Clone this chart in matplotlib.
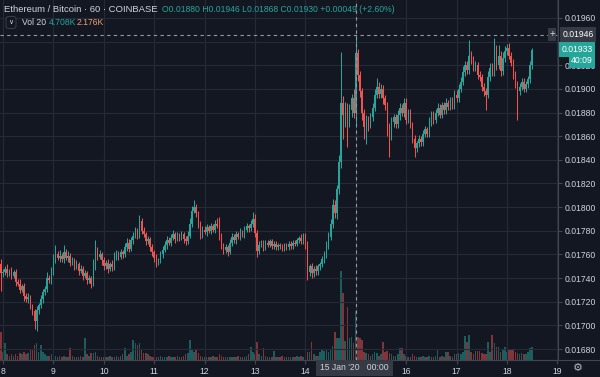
import matplotlib
matplotlib.use("Agg")
import matplotlib.pyplot as plt
import numpy as np
from matplotlib.lines import Line2D

plt.rcParams['font.family'] = ['Liberation Sans', 'DejaVu Sans']

# ---------------- data (prices in 1e-5 BTC, hourly candles) ----------------
first_hour = -1          # hours since 8 Jan 2020 00:00 (first candle 7 Jan 23:00)
first_open = 1752
closes = (
    [1744] +
    [1745,1748,1744,1746,1742,1745,1737,1735,1730,1733,1725,1722,1724,1716,1712,1704,1713,1717,1722,1728,1731,1740,1738,1745] +
    [1756,1760,1757,1759,1756,1762,1757,1759,1753,1755,1750,1752,1746,1748,1742,1744,1738,1740,1735,1750,1763,1758,1760,1755] +
    [1750,1753,1748,1752,1749,1758,1761,1758,1762,1760,1766,1770,1765,1772,1776,1779,1776,1788,1780,1777,1771,1773,1766,1762] +
    [1757,1753,1755,1760,1764,1768,1772,1770,1774,1777,1773,1776,1774,1777,1773,1771,1776,1786,1797,1800,1795,1785,1776,1781] +
    [1779,1783,1780,1784,1781,1786,1784,1775,1768,1764,1766,1762,1770,1775,1772,1777,1775,1779,1777,1781,1784,1782,1786,1790] +
    [1778,1763,1768,1770,1766,1770,1768,1771,1767,1769,1766,1768,1767,1765,1768,1766,1769,1767,1770,1769,1772,1774,1771,1775] +
    [1768,1745,1750,1744,1748,1746,1750,1752,1756,1760,1768,1775,1786,1802,1795,1815,1838,1888,1878,1884,1876,1882,1892,1880] +
    [1930,1912,1898,1880,1868,1874,1870,1876,1884,1895,1902,1896,1900,1892,1886,1868,1860,1872,1876,1870,1878,1884,1880,1888] +
    [1874,1880,1870,1858,1850,1854,1858,1855,1862,1866,1862,1872,1878,1874,1880,1884,1878,1886,1882,1888,1885,1890,1886,1895] +
    [1892,1900,1906,1914,1920,1916,1928,1925,1918,1920,1912,1910,1902,1898,1895,1910,1918,1914,1932,1920,1928,1915,1926,1932] +
    [1935,1928,1922,1912,1904,1898,1902,1906,1900,1904,1908,1920,1933]
)
upper_wick = (
    [4] +
    [3,2,4,2,3,2,3,2,4,2,3,2,3,2,2,2,3,2,4,3,2,5,3,4] +
    [4,8,3,5,2,6,3,4,2,3,2,3,2,3,2,3,2,3,2,6,9,3,4,2] +
    [3,2,3,2,3,4,3,2,3,2,4,4,3,3,3,4,3,5,3,3,2,3,2,3] +
    [2,3,2,3,3,3,4,3,3,4,2,3,2,3,2,3,4,5,4,6,3,2,3,3] +
    [3,3,2,3,2,3,5,8,3,2,3,2,3,3,2,3,2,3,2,3,3,2,3,6] +
    [4,3,3,2,2,2,2,2,2,2,2,2,2,2,2,2,2,2,2,2,2,2,3,3] +
    [3,3,2,3,2,3,2,2,3,3,3,4,4,5,4,4,6,43,6,5,4,5,4,8] +
    [16,4,3,3,3,4,3,4,4,5,7,4,4,3,3,3,3,4,3,3,4,4,3,4] +
    [4,3,3,2,3,2,3,2,3,3,2,4,3,3,3,4,3,3,3,4,3,3,3,4] +
    [4,4,4,5,4,4,13,4,3,4,3,3,3,3,3,5,4,4,11,5,9,4,5,4] +
    [3,4,3,3,3,3,3,3,3,3,3,4,2]
)
lower_wick = (
    [15] +
    [3,2,3,2,3,2,4,2,3,2,4,2,3,2,3,7,9,3,2,3,2,3,2,3] +
    [2,3,2,3,2,3,2,3,3,2,3,2,3,2,4,2,3,2,3,2,3,3,2,4] +
    [3,2,4,2,3,2,3,3,2,3,2,3,3,2,3,2,3,2,3,2,3,2,3,3] +
    [3,4,2,2,3,2,3,2,3,2,3,2,3,2,3,3,2,2,3,2,3,3,3,2] +
    [2,3,2,3,2,3,2,3,3,4,3,3,2,3,2,3,2,3,2,3,2,3,2,3] +
    [3,5,3,2,3,2,2,2,2,2,2,2,2,2,2,2,2,2,2,2,2,2,2,2] +
    [3,7,3,4,3,3,3,3,3,3,3,3,3,4,4,5,4,5,20,10,25,8,6,5] +
    [12,5,5,6,10,15,6,3,3,3,3,4,4,5,4,8,18,3,4,3,3,4,3,4] +
    [4,3,3,4,8,3,3,3,3,3,3,3,3,4,3,3,3,3,3,3,3,3,3,3] +
    [3,3,3,3,3,3,3,4,3,3,4,3,4,4,13,3,3,3,3,4,3,4,3,3] +
    [3,3,3,4,3,24,3,3,3,3,3,3,3]
)
volume_k = (
    [10] +
    [3,6,2,1.5,2,1.5,2,1.5,2.5,2,3,2,2.5,3.6,4,5.4,6,3,5.4,3,2,1.5,1.5,2] +
    [2,1.5,1.2,1.5,1,1.5,1.2,1,4.3,1.5,1,1.2,1,1.5,1.2,8,2,1.5,2.5,2.5,3,1.5,1.2,1] +
    [1,1.2,1,1.5,1,1.2,1.5,1,1.5,2,4.3,1.5,2,3,7.2,6,5.5,6,4,2.5,2.5,2,1.5,1] +
    [1,1.2,1,1.5,1,1.2,1,1.5,1,1.2,1,1.5,1.2,1,1.5,2,2.5,7.2,3.6,3,3.6,2.5,1.5,1.2] +
    [1,1.2,1,1.2,1.5,1,1.2,2,1.5,1.2,1,1.2,1,1,1.2,1,1.5,1,1,1.2,1.5,2,4.7,3] +
    [2,6.5,2,1.5,4.3,1.5,1,1.2,1,3.2,1,1.2,1,1.5,1,1.2,1,1,1.2,1,1.5,1.2,1.5,1.2] +
    [10.4,3,3,6.5,2,1.5,1.5,3,3.6,3.2,3.6,3,4,5,10,8,8,32,24,7,19,8,8.3,6] +
    [17.6,8.3,8,7.2,3,2.5,2,1.5,2,3,2.5,1.5,2,6.5,3,3.2,2.5,2.2,1.5,1.5,2,4.5,4.3,2] +
    [1.5,1,1.2,2,1.5,1,1.2,1,1.5,1.2,1,1.5,1.2,1,1.5,3.6,1.2,1.5,1,2.9,2.9,1.5,1.2,2] +
    [2,2.5,2,3,8.6,6.5,9,3,2,3.2,3.2,3.2,2.5,2,2,6.5,3,9,6,4.7,4.7,3,4,4.7] +
    [3,4,4,4,3,2.5,2,2.5,2,2,3,4.3,4.708]
)
day_labels = ['8', '9', '10', '11', '12', '13', '14', '', '16', '17', '18', '19']
price_ticks = [0.0168, 0.0170, 0.0172, 0.0174, 0.0176, 0.0178, 0.0180, 0.0182,
               0.0184, 0.0186, 0.0188, 0.0190, 0.0192, 0.0194, 0.0196]
cross_price = 0.01946
cross_hour = 168
last_price = 0.01933

assert len(closes) == len(upper_wick) == len(lower_wick) == len(volume_k)

# ---------------- derived ----------------
c = np.array(closes) * 1e-5
o = np.concatenate([[first_open], closes[:-1]]) * 1e-5
hi = np.maximum(o, c) + np.array(upper_wick) * 1e-5
lo = np.minimum(o, c) - np.array(lower_wick) * 1e-5
t = np.arange(len(c)) + first_hour
up = c >= o

BG = '#131722'
GRID = '#262a36'
UP = '#26a69a'
DN = '#ef5350'
TXT = '#d1d4dc'
SEP = '#434651'

W, H = 600, 377
fig = plt.figure(figsize=(6, 3.77), dpi=100, facecolor=BG)
ax = fig.add_axes([0, 17 / H, 558 / W, 360 / H])
axv = ax.twinx()
axv.set_zorder(ax.get_zorder() - 1)
ax.patch.set_visible(False)
axv.patch.set_facecolor(BG)

ax.set_xlim(-1.43, 264.3)
ax.set_ylim(0.016707, 0.019752)
axv.set_ylim(0, 129.6)

# volume
vcols = [(0.149, 0.651, 0.604, 0.5) if u else (0.937, 0.325, 0.314, 0.5) for u in up]
axv.bar(t, volume_k, width=0.75, color=vcols, linewidth=0)

# candles
cols = [UP if u else DN for u in up]
ax.vlines(t, lo, hi, colors=cols, linewidth=0.75, zorder=3)
body_h = np.maximum(np.abs(c - o), 0.6e-5)
ax.bar(t, body_h, bottom=np.minimum(o, c), width=0.72, color=cols, linewidth=0, zorder=4)

# grid / axes
ax.set_xticks(np.arange(0, 265, 24))
ax.set_xticklabels(day_labels)
ax.set_yticks(price_ticks)
ax.set_yticklabels([f'{v:.5f}' for v in price_ticks])
ax.yaxis.tick_right()
ax.grid(True, color=GRID, linewidth=0.8, zorder=0)
ax.tick_params(axis='y', colors=SEP, labelcolor=TXT, labelsize=6.2, length=3, pad=2)
ax.tick_params(axis='x', colors=SEP, labelcolor=TXT, labelsize=6.2, length=3, pad=2)
for s in ['top', 'left']:
    ax.spines[s].set_visible(False)
for s in axv.spines.values():
    s.set_visible(False)
ax.spines['right'].set_color(SEP)
ax.spines['bottom'].set_color(SEP)
axv.set_yticks([])

# crosshair
ax.axhline(cross_price, color='#9598a1', linewidth=0.8, linestyle=(0, (3, 3)), zorder=5)
ax.axvline(cross_hour, color='#9598a1', linewidth=0.8, linestyle=(0, (3, 3)), zorder=5)

def fx(px):
    return px / W

def fy(py):
    return 1 - py / H

# header
fig.text(fx(4), fy(9), 'Ethereum / Bitcoin · 60 · COINBASE', color=TXT, fontsize=6.8, va='center', ha='left')
fig.text(fx(162), fy(9), 'O0.01880 H0.01946 L0.01868 C0.01930 +0.00049 (+2.60%)', color=UP, fontsize=6.2, va='center', ha='left')
fig.text(fx(11), fy(22.5), '∨', color=TXT, fontsize=5, va='center', ha='center',
         bbox=dict(boxstyle='round,pad=0.35', fc=BG, ec=SEP, lw=0.6))
fig.text(fx(22), fy(22.5), 'Vol 20', color=TXT, fontsize=6.2, va='center', ha='left')
fig.text(fx(49), fy(22.5), '4.708K', color=UP, fontsize=6.2, va='center', ha='left')
fig.text(fx(77), fy(22.5), '2.176K', color='#f0a070', fontsize=6.2, va='center', ha='left')

# right price labels
fig.text(fx(578), fy(34.5), f'{cross_price:.5f}', color='white', fontsize=6.2, va='center', ha='center',
         bbox=dict(boxstyle='square,pad=0.3', fc='#363a45', ec='none'))
fig.text(fx(552), fy(34.5), '+', color=TXT, fontsize=7, va='center', ha='center',
         bbox=dict(boxstyle='square,pad=0.15', fc='#363a45', ec='none'))
fig.text(fx(577), fy(49.5), f'{last_price:.5f}', color='white', fontsize=6.2, va='center', ha='center',
         bbox=dict(boxstyle='square,pad=0.3', fc=UP, ec='none'))
fig.text(fx(582), fy(60.5), '40:09', color='white', fontsize=6.2, va='center', ha='center',
         bbox=dict(boxstyle='square,pad=0.3', fc=UP, ec='none'))

# bottom crosshair label
fig.text(fx(354.5), fy(368), "15 Jan '20   00:00", color=TXT, fontsize=6.2, va='center', ha='center',
         bbox=dict(boxstyle='square,pad=0.45', fc='#363a45', ec='none'))
fig.text(fx(578), fy(368), '⚙', color='#b2b5be', fontsize=8, va='center', ha='center', family='DejaVu Sans')

fig.add_artist(Line2D([0, 1], [fy(360), fy(360)], transform=fig.transFigure, color=SEP, lw=0.8))

fig.savefig('out.png', dpi=100, facecolor=BG)
